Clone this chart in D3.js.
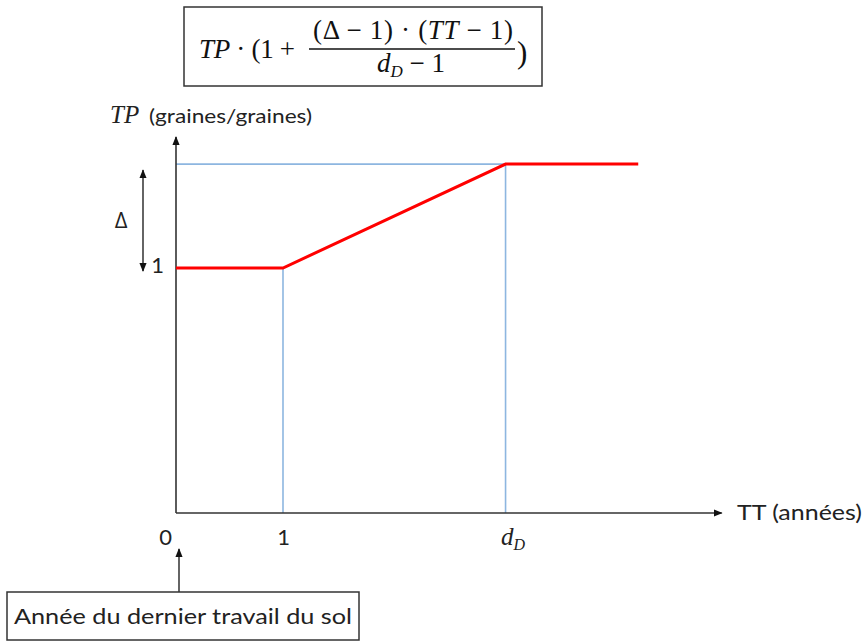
<!DOCTYPE html>
<html><head><meta charset="utf-8">
<script src="https://cdn.jsdelivr.net/npm/d3@7"></script>
<style>body{margin:0;background:#fff}svg{display:block}</style>
</head><body>
<svg id="c" width="865" height="642"></svg>
<script>
// ---- data ----
const ttTicks = [0, 1, 3.08];
const ttTickLabels = ["0", "1", "dD"];
const redTT = [0, 1, 3.08, 4.32];
const redTP = [1, 1, 1.424, 1.424];
const delta = 1.424;
const dD = 3.08;
const xAxisMax = 5.1;
const yAxisMax = 1.535;
const tpTicks = [1];
const tpTickLabels = ["1"];

const svg = d3.select("#c");
const x = d3.scaleLinear().domain([0, 1]).range([176, 283]);
const y = d3.scaleLinear().domain([0, 1]).range([513, 268]);

const defs = svg.append("defs");
function marker(id, orient) {
  defs.append("marker").attr("id", id).attr("viewBox", "0 0 10 10")
    .attr("refX", 9).attr("refY", 5).attr("markerWidth", 9).attr("markerHeight", 9)
    .attr("markerUnits", "userSpaceOnUse").attr("orient", orient)
    .append("path").attr("d", "M0,1 L10,5 L0,9 Z").attr("fill", "#111");
}
marker("arr", "auto");
marker("arrS", "auto-start-reverse");

const blue = "#8db6e0";
svg.append("line").attr("x1", x(0)).attr("x2", x(dD)).attr("y1", y(delta)).attr("y2", y(delta))
  .attr("stroke", blue).attr("stroke-width", 1.6);
svg.append("line").attr("x1", x(1)).attr("x2", x(1)).attr("y1", y(0)).attr("y2", y(1))
  .attr("stroke", blue).attr("stroke-width", 1.6);
svg.append("line").attr("x1", x(dD)).attr("x2", x(dD)).attr("y1", y(0)).attr("y2", y(delta))
  .attr("stroke", blue).attr("stroke-width", 1.6);

svg.append("line").attr("x1", x(0)).attr("y1", y(0)).attr("x2", x(xAxisMax)).attr("y2", y(0))
  .attr("stroke", "#333").attr("stroke-width", 1.6).attr("marker-end", "url(#arr)");
svg.append("line").attr("x1", x(0)).attr("y1", y(0)).attr("x2", x(0)).attr("y2", y(yAxisMax))
  .attr("stroke", "#333").attr("stroke-width", 1.6).attr("marker-end", "url(#arr)");

const line = d3.line().x((d, i) => x(redTT[i])).y(d => y(d));
svg.append("path").datum(redTP).attr("d", line).attr("fill", "none")
  .attr("stroke", "#ff0000").attr("stroke-width", 3);

const sans = "Lato, 'Open Sans', sans-serif";
const xa = svg.append("g").attr("transform", `translate(0,${y(0) + 13})`)
  .call(d3.axisBottom(x).tickValues(ttTicks).tickSize(0).tickFormat((d, i) => ttTickLabels[i]));
xa.select(".domain").remove();
xa.selectAll("text").attr("font-family", sans).attr("font-size", 22)
  .attr("fill", "#222").attr("dy", "0.71em");
xa.selectAll("text").each(function (d, i) {
  const t = d3.select(this);
  if (i === 0) t.attr("dx", -11);
  if (ttTickLabels[i] === "dD") {
    t.text(null).attr("font-family", "'Liberation Serif', serif").attr("font-style", "italic")
      .attr("font-size", 25).attr("dx", 7).attr("dy", "0.62em");
    t.append("tspan").text("d");
    t.append("tspan").text("D").attr("font-size", 16).attr("dy", 5);
  }
});

const ya = svg.append("g").attr("transform", `translate(${x(0) - 9},0)`)
  .call(d3.axisLeft(y).tickValues(tpTicks).tickSize(0).tickFormat((d, i) => tpTickLabels[i]));
ya.select(".domain").remove();
ya.selectAll("text").attr("font-family", sans).attr("font-size", 22)
  .attr("fill", "#222").attr("dy", "0.22em");

svg.append("line").attr("x1", 143).attr("x2", 143).attr("y1", y(1) + 3).attr("y2", y(delta) + 6)
  .attr("stroke", "#111").attr("stroke-width", 1.3)
  .attr("marker-start", "url(#arrS)").attr("marker-end", "url(#arr)");
svg.append("text").attr("x", 121).attr("y", 228).attr("text-anchor", "middle")
  .attr("font-family", "'Open Sans', 'DejaVu Sans', sans-serif").attr("font-size", 22).attr("fill", "#222").text("Δ");

const yt = svg.append("text").attr("x", 110).attr("y", 123).attr("fill", "#222");
yt.append("tspan").text("TP").attr("font-family", "'Liberation Serif', serif").attr("font-style", "italic").attr("font-size", 25);
yt.append("tspan").text(" ").attr("font-size", 18);
yt.append("tspan").text("(graines/graines)").attr("font-family", sans).attr("font-size", 19)
  .attr("x", 149).attr("textLength", 163).attr("lengthAdjust", "spacingAndGlyphs");

svg.append("text").attr("x", 737).attr("y", 520).attr("font-family", sans)
  .attr("font-size", 22).attr("fill", "#222").attr("textLength", 125).attr("lengthAdjust", "spacingAndGlyphs").text("TT (années)");

svg.append("line").attr("x1", 179).attr("x2", 179).attr("y1", 592).attr("y2", 549)
  .attr("stroke", "#111").attr("stroke-width", 1.3).attr("marker-end", "url(#arr)");
svg.append("rect").attr("x", 7).attr("y", 592).attr("width", 352).attr("height", 48)
  .attr("fill", "#fff").attr("stroke", "#333").attr("stroke-width", 1.5);
svg.append("text").attr("x", 183).attr("y", 624).attr("text-anchor", "middle")
  .attr("font-family", sans).attr("font-size", 21).attr("fill", "#222")
  .attr("textLength", 338).attr("lengthAdjust", "spacingAndGlyphs").text("Année du dernier travail du sol");

svg.append("rect").attr("x", 184).attr("y", 7).attr("width", 358).attr("height", 79)
  .attr("fill", "#fff").attr("stroke", "#333").attr("stroke-width", 1.5);
const mf = "'Liberation Serif', serif";
const g = svg.append("g").attr("font-family", mf).attr("fill", "#111");
const m1 = g.append("text").attr("x", 199).attr("y", 58).attr("font-size", 27)
  .attr("textLength", 96).attr("lengthAdjust", "spacing");
m1.append("tspan").text("TP").attr("font-style", "italic");
m1.append("tspan").text(" · (1 + ");
g.append("line").attr("x1", 309).attr("x2", 515).attr("y1", 49).attr("y2", 49).attr("stroke", "#111").attr("stroke-width", 1.3);
const num = g.append("text").attr("x", 313).attr("y", 39).attr("font-size", 27)
  .attr("textLength", 200).attr("lengthAdjust", "spacing");
num.append("tspan").text("(Δ − 1) · (");
num.append("tspan").text("TT").attr("font-style", "italic");
num.append("tspan").text(" − 1)");
const den = g.append("text").attr("x", 377).attr("y", 72).attr("font-size", 27);
den.append("tspan").text("d").attr("font-style", "italic");
den.append("tspan").text("D").attr("font-style", "italic").attr("font-size", 17).attr("dy", 5);
den.append("tspan").text(" − 1").attr("dy", -5);
g.append("text").attr("x", 517).attr("y", 63).attr("font-size", 31).text(")");
</script>
</body></html>
